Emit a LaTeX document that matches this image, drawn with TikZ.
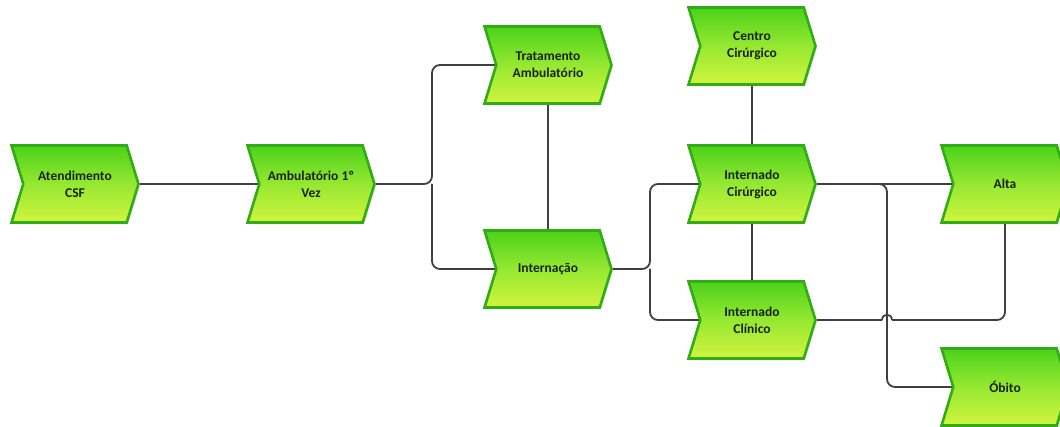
\documentclass[tikz,border=0pt]{standalone}
\usepackage{fontspec}
\setmainfont{Carlito}
\usetikzlibrary{shapes.symbols,backgrounds,calc,shadows}
\definecolor{gtop}{RGB}{76,210,26}
\definecolor{gmid}{RGB}{150,232,50}
\definecolor{gbot}{RGB}{208,244,62}
\definecolor{gborder}{RGB}{50,172,22}
\definecolor{txt}{RGB}{26,36,12}
\definecolor{wire}{RGB}{64,64,64}
\tikzset{
  evt/.style={signal, signal to=east, signal from=west, signal pointer angle=146,
    minimum width=127, minimum height=77, inner sep=0pt,
    top color=gtop, bottom color=gbot, middle color=gmid,
    draw=gborder, line width=2.6pt, line join=miter,
    drop shadow={opacity=0.2, shadow xshift=1.5pt, shadow yshift=-2pt},
    font=\bfseries\fontsize{13.5}{17}\selectfont, text=txt, align=center},
  conn/.style={draw=wire, line width=1.8pt, rounded corners=8pt}
}
\begin{document}
\begin{tikzpicture}[x=1pt,y=-1pt]
\useasboundingbox (0,0) rectangle (1060,427);
\node[evt] (aten) at (75,184) {Atendimento\\CSF};
\node[evt] (amb) at (311,184) {Ambulatório 1º\\Vez};
\node[evt] (trat) at (548,65) {Tratamento\\Ambulatório};
\node[evt] (intern) at (548,269) {Internação};
\node[evt] (centro) at (752,46) {Centro\\Cirúrgico};
\node[evt] (icir) at (752,184) {Internado\\Cirúrgico};
\node[evt] (icli) at (752,320) {Internado\\Clínico};
\node[evt] (alta) at (1005,184) {Alta};
\node[evt] (obito) at (1005,387) {Óbito};
\coordinate (j1) at (432,184);
\coordinate (j2) at (650,269);
\coordinate (j3) at (887,184);
\coordinate (hopL) at ($(j3 |- icli)+(-5,0)$);
\coordinate (hopR) at ($(j3 |- icli)+(5,0)$);
\begin{scope}[on background layer]
\draw[conn] (aten) -- (amb);
\draw[conn] (amb) -- (j1) |- (trat);
\draw[conn] (j1) |- (intern);
\draw[conn] (trat) -- (intern);
\draw[conn] (intern) -- (j2) |- (icir);
\draw[conn] (j2) |- (icli);
\draw[conn] (centro) -- (icir);
\draw[conn] (icir) -- (icli);
\draw[conn] (icir) -- (alta);
\draw[conn] (icir) -- (j3) |- (obito);
\draw[conn] (icli) -- (hopL);
\draw[draw=wire, line width=1.8pt] (hopL) .. controls ($(hopL)+(0,-7)$) and ($(hopR)+(0,-7)$) .. (hopR);
\draw[conn] (hopR) -| (alta);
\end{scope}
\end{tikzpicture}
\end{document}
